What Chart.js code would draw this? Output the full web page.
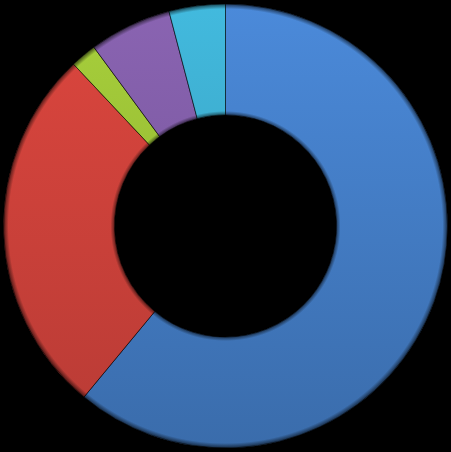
<!DOCTYPE html>
<html>
<head>
<meta charset="utf-8">
<script src="https://cdn.jsdelivr.net/npm/chart.js@4"></script>
<style>
  html, body { margin: 0; padding: 0; background: #000; }
  #wrap { width: 451px; height: 452px; }
</style>
</head>
<body>
<div id="wrap"><canvas id="donut"></canvas></div>
<script>
// Data (clockwise from 12 o'clock)
const labels = ['Blue', 'Red', 'Green', 'Purple', 'Cyan'];
const values = [61, 27, 1.9, 6, 4.1];
const topColors = ['#4b8ada', '#dc463e', '#a8d03c', '#8a64b2', '#42bade'];
const bottomColors = ['#3a6cab', '#b83b35', '#86a82c', '#6e4f92', '#3594b2'];

function fillFor(context) {
    const chart = context.chart;
    const area = chart.chartArea;
    if (!area) return topColors[context.dataIndex];
    const g = chart.ctx.createLinearGradient(0, area.top, 0, area.bottom);
    g.addColorStop(0, topColors[context.dataIndex]);
    g.addColorStop(1, bottomColors[context.dataIndex]);
    return g;
}

// soft bevel: darken the inner and outer rims of the ring
const bevel = {
    id: 'bevel',
    afterDatasetsDraw(chart) {
        const arc = chart.getDatasetMeta(0).data[0];
        if (!arc) return;
        const { x, y, innerRadius: r0, outerRadius: r1 } = arc.getProps(['x', 'y', 'innerRadius', 'outerRadius'], true);
        const c = chart.ctx;
        const g = c.createRadialGradient(x, y, r0, x, y, r1);
        const span = r1 - r0;
        g.addColorStop(0, 'rgba(0,0,0,0.55)');
        g.addColorStop(4 / span, 'rgba(0,0,0,0)');
        g.addColorStop(1 - 5 / span, 'rgba(0,0,0,0)');
        g.addColorStop(1, 'rgba(0,0,0,0.6)');
        c.save();
        c.beginPath();
        c.arc(x, y, r1, 0, Math.PI * 2);
        c.arc(x, y, r0, 0, Math.PI * 2, true);
        c.fillStyle = g;
        c.fill();
        c.restore();
    }
};

const ctx = document.getElementById('donut').getContext('2d');
new Chart(ctx, {
    type: 'doughnut',
    data: {
        labels: labels,
        datasets: [{
            data: values,
            backgroundColor: fillFor,
            borderColor: 'rgba(0, 0, 0, 0.55)',
            borderWidth: 1
        }]
    },
    options: {
        responsive: true,
        maintainAspectRatio: false,
        animation: false,
        cutout: '50%',
        layout: { padding: 3 },
        plugins: {
            legend: { display: false },
            tooltip: { enabled: false }
        }
    },
    plugins: [bevel]
});
</script>
</body>
</html>
